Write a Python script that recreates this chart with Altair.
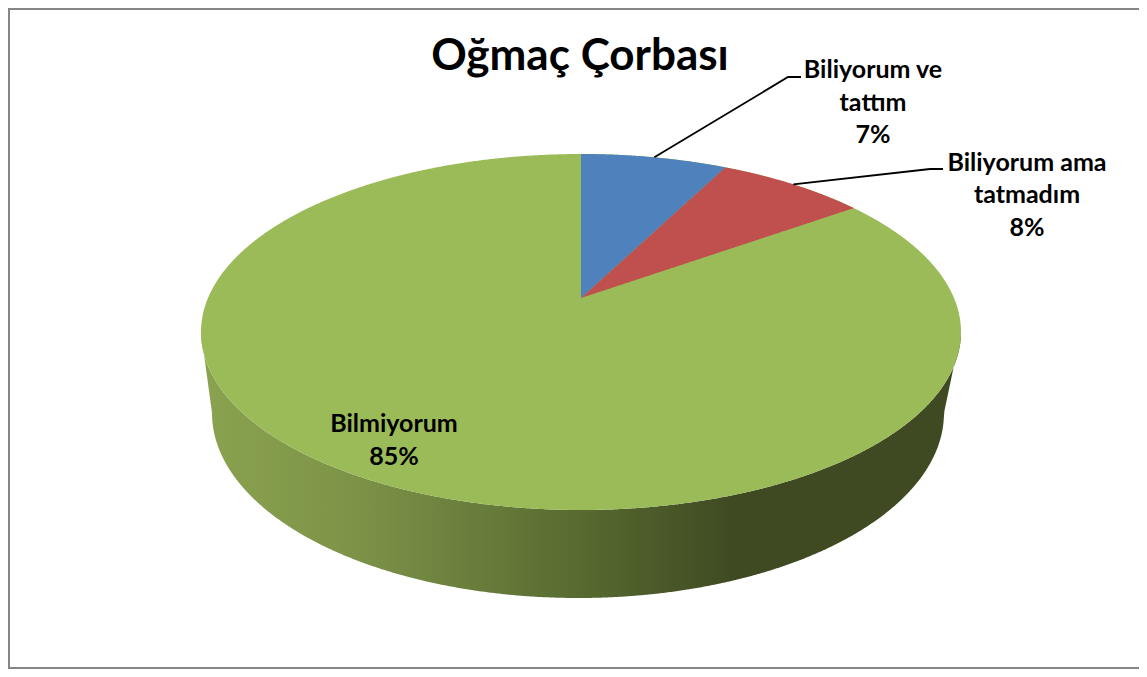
import altair as alt
import numpy as np
import pandas as pd

title_text = "Oğmaç Çorbası"
categories = ["Biliyorum ve tattım", "Biliyorum ama tatmadım", "Bilmiyorum"]
shares = [7.49, 7.61, 84.9]
percent_labels = ["7%", "8%", "85%"]
slice_colors = ["#4f81bd", "#c0504d", "#9bbb59"]

# --- pie geometry (screen-like coordinates used as the scale domains)
W, H = 1131, 661
APEX_X, APEX_Y = 581.0, 298.0
K, E, M = 171.5, 0.191, 373.0
FACE_CY, FACE_RX, FACE_RY = 332.0, 380.0, 178.0
RIM_CX, RIM_CY, RIM_RX, RIM_RY = 578.0, 413.0, 366.0, 185.0


def project(share):
    a = 2 * np.pi * np.asarray(share, dtype=float) / 100.0
    w = 1 + E * np.cos(a)
    return APEX_X + M * np.sin(a) / w, APEX_Y - K * np.cos(a) / w


def sector_frame(s0, s1, name):
    """Sector as x / y / y2 rows: upper boundary and lower boundary at each x."""
    arc_x, arc_y = project(np.linspace(s0, s1, 80))
    x0, y0 = project(s0)
    x1, y1 = project(s1)
    xs = np.unique(np.concatenate([np.linspace(APEX_X, x1, 160), arc_x, [x0]]))
    up_x = np.concatenate([[APEX_X], [x0], arc_x]) if s0 > 0 else arc_x
    up_y = np.concatenate([[APEX_Y], [y0], arc_y]) if s0 > 0 else arc_y
    top = np.interp(xs, up_x, up_y)
    bottom = np.interp(xs, [APEX_X, x1], [APEX_Y, y1])
    return pd.DataFrame({"x": xs, "y": top, "y2": bottom, "name": name})


cum = np.cumsum([0] + shares)

# top face (the largest slice shows through everywhere the others do not cover it)
fx = FACE_RX * np.cos(np.linspace(np.pi, 0, 721)) + APEX_X
half = FACE_RY * np.sqrt(np.clip(1 - ((fx - APEX_X) / FACE_RX) ** 2, 0, 1))
face = pd.DataFrame({"x": fx, "y": FACE_CY - half, "y2": FACE_CY + half})

# side wall
rim_dx = (fx - RIM_CX) / RIM_RX
rim = RIM_CY + RIM_RY * np.sqrt(np.clip(1 - rim_dx ** 2, 0, 1))
left_edge = fx < RIM_CX - RIM_RX
right_edge = fx > RIM_CX + RIM_RX
rim[left_edge] = np.interp(fx[left_edge], [APEX_X - FACE_RX, RIM_CX - RIM_RX], [FACE_CY, RIM_CY])
rim[right_edge] = np.interp(fx[right_edge], [RIM_CX + RIM_RX, APEX_X + FACE_RX], [RIM_CY, FACE_CY])
side = pd.DataFrame({"x": fx, "y": FACE_CY + half, "y2": rim})

x_scale = alt.Scale(domain=[8, 8 + W], nice=False, zero=False)
y_scale = alt.Scale(domain=[8 + H, 8], nice=False, zero=False)
X = alt.X("x:Q", scale=x_scale, axis=None)
Y = alt.Y("y:Q", scale=y_scale, axis=None)

side_fill = alt.LinearGradient(
    gradient="linear", x1=0, x2=1, y1=0, y2=0,
    stops=[
        alt.GradientStop(offset=0.0, color="#8aa34f"),
        alt.GradientStop(offset=0.2, color="#7d9348"),
        alt.GradientStop(offset=0.5, color="#576a30"),
        alt.GradientStop(offset=0.7, color="#3f4a22"),
        alt.GradientStop(offset=1.0, color="#3f4a22"),
    ],
)
side_layer = alt.Chart(side).mark_area(color=side_fill, interpolate="linear").encode(x=X, y=Y, y2="y2:Q")
face_layer = alt.Chart(face).mark_area(color=slice_colors[2], interpolate="linear").encode(x=X, y=Y, y2="y2:Q")
blue_layer = alt.Chart(sector_frame(cum[0], cum[1], categories[0])).mark_area(
    color=slice_colors[0], interpolate="linear").encode(x=X, y=Y, y2="y2:Q")
red_layer = alt.Chart(sector_frame(cum[1], cum[2], categories[1])).mark_area(
    color=slice_colors[1], interpolate="linear").encode(x=X, y=Y, y2="y2:Q")

# leader lines start at each slice's middle angle on the rim
lead0 = project((cum[0] + cum[1]) / 2)
lead1 = project((cum[1] + cum[2]) / 2)
leaders = pd.DataFrame({
    "x": [float(lead0[0]), 788, 801, float(lead1[0]), 930, 943],
    "y": [float(lead0[1]), 77, 77, float(lead1[1]), 169, 169],
    "k": ["a", "a", "a", "b", "b", "b"],
    "o": [0, 1, 2, 0, 1, 2],
})
leader_layer = alt.Chart(leaders).mark_line(color="#000000", strokeWidth=1.8).encode(
    x=X, y=Y, detail="k:N", order="o:Q")

labels = pd.DataFrame({
    "x": [873, 873, 873, 1027, 1027, 1027, 394, 394],
    "y": [70, 103, 135, 163, 195, 228, 424, 457],
    "t": ["Biliyorum ve", "tattım", percent_labels[0],
          "Biliyorum ama", "tatmadım", percent_labels[1],
          categories[2], percent_labels[2]],
})
label_layer = alt.Chart(labels).mark_text(
    font="Lato", fontWeight="bold", fontSize=25, color="#000000", align="center", baseline="middle"
).encode(x=X, y=Y, text="t:N")

title_layer = alt.Chart(pd.DataFrame({"x": [580], "y": [57], "t": [title_text]})).mark_text(
    font="Lato", fontWeight="bold", fontSize=44, color="#000000", align="center", baseline="middle"
).encode(x=X, y=Y, text="t:N")

# chart frame: left, top and bottom borders
frame_color = "#868686"
frame_left = alt.Chart(pd.DataFrame({"x": [9]})).mark_rule(color=frame_color, strokeWidth=2).encode(x=X)
frame_top = alt.Chart(pd.DataFrame({"y": [9]})).mark_rule(color=frame_color, strokeWidth=2).encode(y=Y)
frame_bottom = alt.Chart(pd.DataFrame({"y": [668]})).mark_rule(color=frame_color, strokeWidth=2).encode(y=Y)

chart = alt.layer(
    frame_left, frame_top, frame_bottom,
    side_layer, face_layer, blue_layer, red_layer,
    leader_layer, label_layer, title_layer,
).properties(
    width=W, height=H, padding=0, background="#ffffff",
    autosize=alt.AutoSizeParams(type="none"),
).configure_view(stroke=None)

chart.save("out.html", embed_options={"renderer": "svg", "actions": False})
